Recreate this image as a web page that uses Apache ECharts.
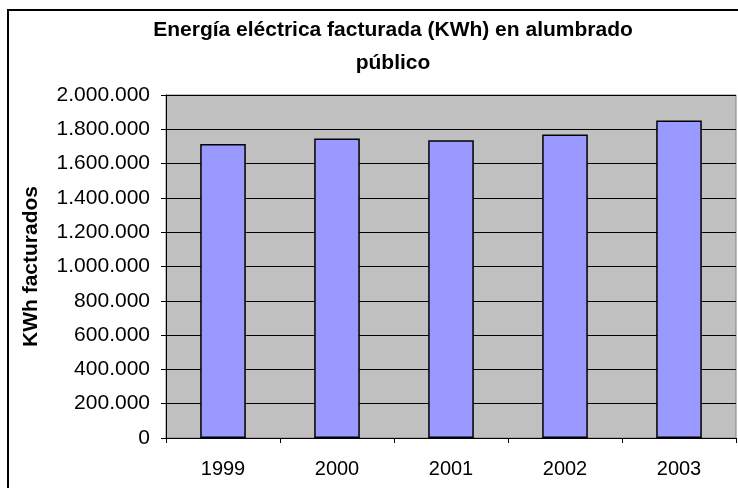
<!DOCTYPE html>
<html>
<head>
<meta charset="utf-8">
<script src="https://cdn.jsdelivr.net/npm/echarts@6/dist/echarts.min.js"></script>
<style>
  html, body { margin: 0; padding: 0; background: #fff; }
  #chart { width: 738px; height: 488px; }
</style>
</head>
<body>
<div id="chart"></div>
<script>
  // datos del gráfico
  var years = ['1999', '2000', '2001', '2002', '2003'];
  var kwh = [1715000, 1747000, 1736000, 1770000, 1851000];

  function puntos(v) {
    return String(v).replace(/\B(?=(\d{3})+(?!\d))/g, '.');
  }

  var chart = echarts.init(document.getElementById('chart'));
  chart.setOption({
    animation: false,
    backgroundColor: '#fff',
    textStyle: { fontFamily: 'Liberation Sans, Arial, sans-serif' },
    title: {
      text: 'Energía eléctrica facturada (KWh) en alumbrado\npúblico',
      left: 388,
      top: 9,
      textAlign: 'center',
      textStyle: { fontSize: 21, fontWeight: 'bold', color: '#000', lineHeight: 33 }
    },
    graphic: [{
      type: 'rect',
      shape: { x: 8, y: 10, width: 740, height: 490 },
      style: { fill: 'none', stroke: '#000', lineWidth: 2 },
      z: 100
    }],
    grid: {
      left: 166, top: 95, right: 2, bottom: 50,
      show: true,
      backgroundColor: '#C0C0C0',
      borderColor: '#808080',
      borderWidth: 1
    },
    xAxis: {
      type: 'category',
      data: years,
      axisLine: { lineStyle: { color: '#000', width: 1 } },
      axisTick: { show: true, alignWithLabel: false, length: 5, lineStyle: { color: '#000' } },
      axisLabel: { color: '#000', fontSize: 20, margin: 21 }
    },
    yAxis: {
      type: 'value',
      min: 0, max: 2000000, interval: 200000,
      name: 'KWh facturados',
      nameLocation: 'middle',
      nameGap: 124,
      nameTextStyle: { fontSize: 21, fontWeight: 'bold', color: '#000' },
      axisLine: { show: true, lineStyle: { color: '#000' } },
      axisTick: { show: true, length: 5, lineStyle: { color: '#000' } },
      axisLabel: { color: '#000', fontSize: 21, margin: 16, formatter: puntos },
      splitLine: { lineStyle: { color: '#000', width: 1 } }
    },
    series: [{
      type: 'bar',
      data: kwh,
      barWidth: '40%',
      itemStyle: { color: '#9999FF', borderColor: '#000', borderWidth: 1.5 }
    }]
  });
</script>
</body>
</html>
